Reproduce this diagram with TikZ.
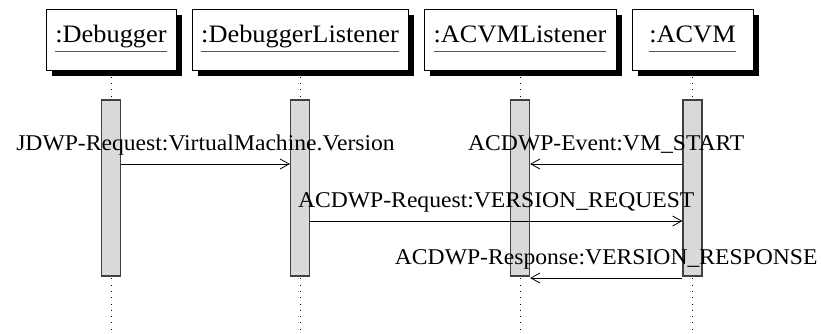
\documentclass[tikz,border=0pt]{standalone}
\usepackage{fontspec}
\setmainfont{Liberation Serif}
\newfontfamily\objfont[FakeStretch=1.05]{Liberation Serif}
\newfontfamily\msgfont[FakeStretch=1.05]{Liberation Serif}
\usetikzlibrary{arrows.meta,shadows}

% object name with a grey underline at a fixed distance below the baseline
\newcommand\objname[1]{\setbox0\hbox{#1}\rlap{\color{black!65}\rule[-8.5pt]{\wd0}{0.9pt}}\box0}

\tikzset{
  objbox/.style={draw=black, line width=0.8pt, fill=white, inner sep=0pt,
    minimum height=61pt, text height=17pt, text depth=10pt,
    font=\objfont\fontsize{25.1}{29}\selectfont,
    general shadow={fill=black, shadow xshift=6pt, shadow yshift=-6pt}},
  lifeline/.style={line width=0.9pt, dash pattern=on 0.9pt off 5.4pt},
  actbar/.style={draw=black!75, line width=1.2pt, fill=black!15,
    minimum width=19pt, minimum height=176pt, inner sep=0pt},
  msgarrow/.style={line width=0.8pt, -{Straight Barb[length=9pt,width=10pt,line width=0.8pt]}},
  msglabel/.style={anchor=base, yshift=14pt, inner sep=0pt,
    font=\msgfont\fontsize{22.5}{26}\selectfont}
}

\begin{document}
\begin{tikzpicture}[x=1pt, y=-1pt]
  \useasboundingbox (0,0) rectangle (821,334);
  \fill[white] (0,0) rectangle (821,334);

  % objects
  \node[objbox, minimum width=130pt] (dbg)  at (111,39.5)   {\objname{:Debugger}};
  \node[objbox, minimum width=216pt] (dbgl) at (300,39.5)   {\objname{:DebuggerListener}};
  \node[objbox, minimum width=192pt] (vml)  at (520,39.5)   {\objname{:ACVMListener}};
  \node[objbox, minimum width=121pt] (vm)   at (692.5,39.5) {\objname{:ACVM}};

  % reference heights
  \coordinate (bottom) at (0,334);
  \coordinate (barmid) at (0,188);
  \coordinate (y1) at (0,164);
  \coordinate (y3) at (0,221);
  \coordinate (y4) at (0,278);

  % lifelines
  \foreach \o in {dbg,dbgl,vml,vm}
    \draw[lifeline] (\o.south) -- (\o.south |- bottom);

  % activation bars
  \node[actbar] (b1) at (dbg.south |- barmid)  {};
  \node[actbar] (b2) at (dbgl.south |- barmid) {};
  \node[actbar] (b3) at (vml.south |- barmid)  {};
  \node[actbar] (b4) at (vm.south |- barmid)   {};

  % messages
  \draw[msgarrow] (b1.east |- y1) -- node[msglabel] (m1) {JDWP-Request:VirtualMachine.Version} (b2.west |- y1);
  \draw[msgarrow] (b4.west |- y1) -- node[msglabel] (m2) {ACDWP-Event:VM\_START} (b3.east |- y1);
  \draw[msgarrow] (b2.east |- y3) -- node[msglabel] (m3) {ACDWP-Request:VERSION\_REQUEST} (b4.west |- y3);
  \draw[msgarrow] (b4.west |- y4) -- node[msglabel] (m4) {ACDWP-Response:VERSION\_RESPONSE} (b3.east |- y4);
\end{tikzpicture}
\end{document}
